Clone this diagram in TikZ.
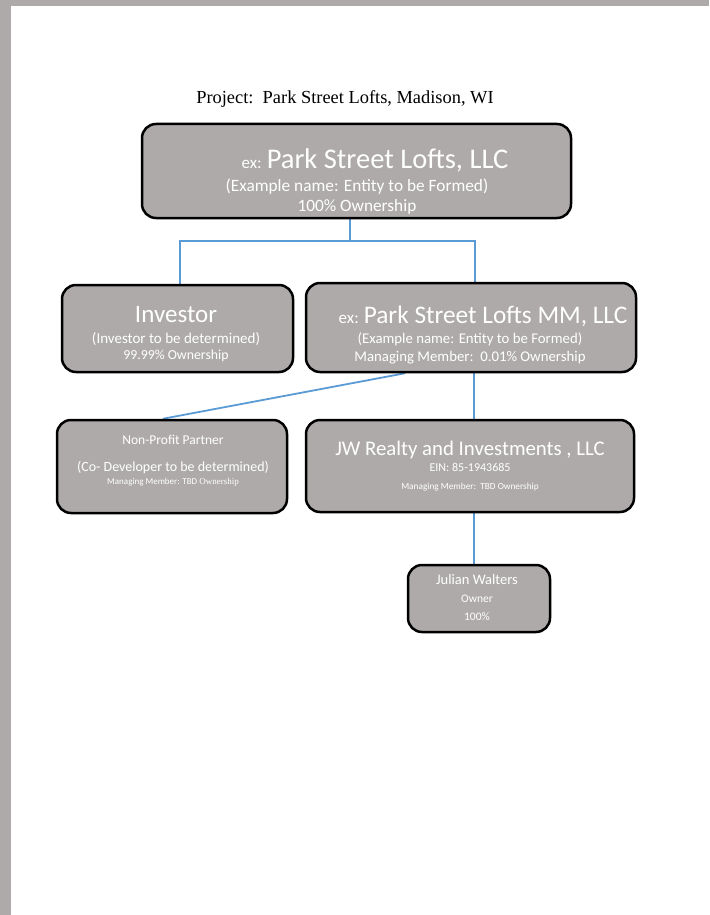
\documentclass[tikz,border=0pt]{standalone}
\usepackage{fontspec}
\setmainfont{Carlito}
\newfontfamily\titlefont{Liberation Serif}
\usetikzlibrary{positioning,backgrounds}
\definecolor{boxgray}{HTML}{AEAAAA}
\definecolor{linkblue}{HTML}{5B9BD5}
\newcommand{\fs}[1]{\fontsize{#1}{1.2\dimexpr#1pt\relax}\selectfont}

\begin{document}
\begin{tikzpicture}[x=1pt, y=-1pt,
    entity/.style={draw=black, line width=2.5pt, fill=boxgray, rounded corners=14pt, inner sep=0pt},
    boxtext/.style={text=white, align=center, inner sep=0pt, anchor=base,
      font={\baselineskip=0pt\lineskiplimit=-1000pt}},
    link/.style={draw=linkblue, line width=1.8pt}]
        \useasboundingbox (0,0) rectangle (709,915);

        \node[anchor=base] (title) at (345,103.5) {\titlefont\fs{18.4}Project:\ \ Park Street Lofts, Madison, WI};

        % Entities
        \node[entity, minimum width=429pt, minimum height=94pt] (llc) at (356.5,171) {};
        \node[entity, minimum width=231pt, minimum height=87pt] (inv) at (177.5,328.5) {};
        \node[entity, minimum width=330pt, minimum height=89pt] (mm) at (471,327.5) {};
        \node[entity, minimum width=230pt, minimum height=93pt] (np) at (172,466.5) {};
        \node[entity, minimum width=328pt, minimum height=92pt] (jw) at (470,466) {};
        \node[entity, minimum width=142pt, minimum height=67pt] (jul) at (479,598.5) {};

        % Texts of the entities (placed on the baseline of their last line)
        \node[boxtext] (llc text) at (357,211)
            {\hspace*{36pt}{\fs{17}ex:}\hspace{5pt}{\fs{28.5}Park Street Lofts, LLC}\\[23pt]
             {\fs{17.3}(Example name: Entity to be Formed)}\\[20pt]
             {\fs{17.3}100\% Ownership}};
        \node[boxtext] (inv text) at (176,359.5)
            {{\fs{25}Investor}\\[21pt]
             {\fs{15}(Investor to be determined)}\\[16.5pt]
             {\fs{13.8}99.99\% Ownership}};
        \node[boxtext] (mm text) at (470,361.5)
            {\hspace*{26pt}{\fs{17}ex:}\hspace{5pt}{\fs{25.3}Park Street Lofts MM, LLC}\\[20pt]
             {\fs{14.8}(Example name: Entity to be Formed)}\\[18pt]
             {\fs{14.8}Managing Member:\ \ 0.01\% Ownership}};
        \node[boxtext] (np text) at (173,484.5)
            {{\fs{13.5}Non-Profit Partner}\\[27pt]
             {\fs{14}(Co- Developer to be determined)}\\[13pt]
             {\fs{9}Managing Member: TBD {\titlefont Ownership}}};
        \node[boxtext] (jw text) at (470,489)
            {{\fs{20.8}JW Realty and Investments , LLC}\\[16pt]
             {\fs{12}EIN: 85-1943685}\\[18pt]
             {\fs{9.3}Managing Member:\ \ TBD Ownership}};
        \node[boxtext] (jul text) at (477,620.5)
            {{\fs{14.5}Julian Walters}\\[18pt]
             {\fs{11.5}Owner}\\[18.5pt]
             {\fs{11.5}100\%}};

        % Ownership links, behind the boxes
        \begin{scope}[on background layer]
            % page with its grey margin
            \fill[boxgray] (0,0) rectangle (709,915);
            \fill[white] (11,6) rectangle (709,915);
            \coordinate (busL) at (180,241);
            \coordinate (busR) at (475,241);
            \coordinate (spine) at (474,0);
            \draw[link] ([xshift=-6.5pt]llc.south) -- ([xshift=-6.5pt]llc.south |- busL);
            \draw[link] (inv.north -| busL) |- (busR) -- (mm.north -| busR);
            \draw[link] ([xshift=-66pt]mm.south) -- ([xshift=-9pt]np.north);
            \draw[link] (mm.south -| spine) -- (jw.north -| spine);
            \draw[link] (jw.south -| spine) -- (jul.north -| spine);
        \end{scope}
\end{tikzpicture}
\end{document}
